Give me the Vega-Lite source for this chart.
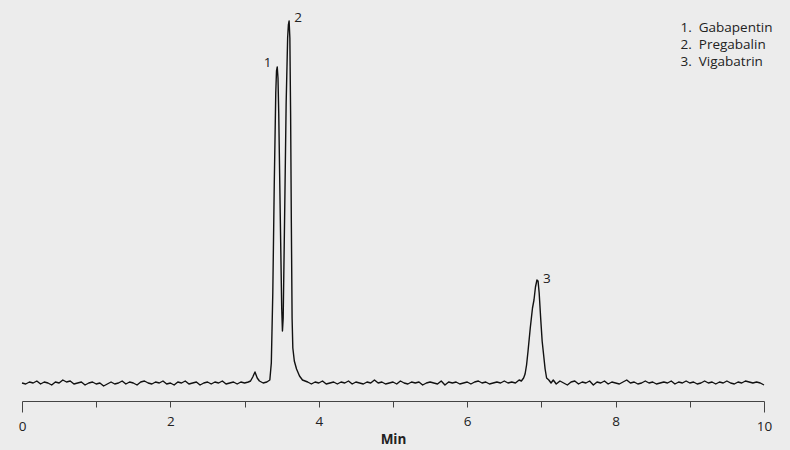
{
  "$schema": "https://vega.github.io/schema/vega-lite/v6.json",
  "autosize": "none",
  "width": 742,
  "height": 401,
  "padding": {"left": 22, "top": 0, "right": 26, "bottom": 49},
  "background": "#ececec",
  "config": {"view": {"stroke": null}, "font": "Open Sans"},
  "datasets": {
    "signal": [
      {"t":0.00,"s":0},{"t":0.05,"s":-1},{"t":0.10,"s":1},{"t":0.15,"s":0},{"t":0.20,"s":2},{"t":0.25,"s":-1},{"t":0.30,"s":1},{"t":0.35,"s":0},{"t":0.40,"s":-2},{"t":0.45,"s":1},
      {"t":0.50,"s":0},{"t":0.55,"s":3},{"t":0.60,"s":1},{"t":0.65,"s":2},{"t":0.70,"s":-1},{"t":0.75,"s":0},{"t":0.80,"s":1},{"t":0.85,"s":-2},{"t":0.90,"s":0},{"t":0.95,"s":1},
      {"t":1.00,"s":-1},{"t":1.05,"s":0},{"t":1.10,"s":-3},{"t":1.15,"s":-1},{"t":1.20,"s":1},{"t":1.25,"s":-1},{"t":1.30,"s":0},{"t":1.35,"s":2},{"t":1.40,"s":-1},{"t":1.45,"s":1},
      {"t":1.50,"s":0},{"t":1.55,"s":-2},{"t":1.60,"s":1},{"t":1.65,"s":2},{"t":1.70,"s":0},{"t":1.75,"s":-1},{"t":1.80,"s":1},{"t":1.85,"s":0},{"t":1.90,"s":2},{"t":1.95,"s":-1},
      {"t":2.00,"s":0},{"t":2.05,"s":-2},{"t":2.10,"s":1},{"t":2.15,"s":0},{"t":2.20,"s":2},{"t":2.25,"s":-1},{"t":2.30,"s":0},{"t":2.35,"s":1},{"t":2.40,"s":-2},{"t":2.45,"s":0},
      {"t":2.50,"s":1},{"t":2.55,"s":-1},{"t":2.60,"s":1},{"t":2.65,"s":0},{"t":2.70,"s":2},{"t":2.75,"s":-1},{"t":2.80,"s":0},{"t":2.85,"s":1},{"t":2.90,"s":-1},{"t":2.95,"s":1},
      {"t":3.00,"s":0},{"t":3.05,"s":1},{"t":3.08,"s":2},{"t":3.11,"s":6},{"t":3.14,"s":11},{"t":3.17,"s":5},{"t":3.20,"s":2},{"t":3.25,"s":0},{"t":3.30,"s":1},
      {"t":3.34,"s":3},{"t":3.36,"s":20},{"t":3.38,"s":90},{"t":3.40,"s":200},{"t":3.42,"s":290},{"t":3.43,"s":312},{"t":3.44,"s":316},{"t":3.45,"s":305},{"t":3.46,"s":270},{"t":3.48,"s":170},
      {"t":3.50,"s":75},{"t":3.51,"s":52},{"t":3.52,"s":65},{"t":3.54,"s":170},{"t":3.56,"s":280},{"t":3.58,"s":345},{"t":3.59,"s":358},{"t":3.60,"s":362},{"t":3.61,"s":345},{"t":3.62,"s":270},
      {"t":3.63,"s":160},{"t":3.64,"s":65},{"t":3.65,"s":35},{"t":3.67,"s":22},{"t":3.70,"s":14},{"t":3.74,"s":7},{"t":3.78,"s":3},
      {"t":3.85,"s":1},{"t":3.90,"s":-1},{"t":3.95,"s":1},{"t":4.00,"s":0},{"t":4.05,"s":2},{"t":4.10,"s":-1},{"t":4.15,"s":0},{"t":4.20,"s":1},{"t":4.25,"s":-1},{"t":4.30,"s":1},
      {"t":4.35,"s":0},{"t":4.40,"s":2},{"t":4.45,"s":-1},{"t":4.50,"s":1},{"t":4.55,"s":0},{"t":4.60,"s":-1},{"t":4.65,"s":1},{"t":4.70,"s":0},{"t":4.75,"s":3},{"t":4.80,"s":0},
      {"t":4.85,"s":1},{"t":4.90,"s":-1},{"t":4.95,"s":0},{"t":5.00,"s":1},{"t":5.05,"s":-1},{"t":5.10,"s":2},{"t":5.15,"s":0},{"t":5.20,"s":-1},{"t":5.25,"s":1},{"t":5.30,"s":0},
      {"t":5.35,"s":1},{"t":5.40,"s":-2},{"t":5.45,"s":0},{"t":5.50,"s":1},{"t":5.55,"s":0},{"t":5.60,"s":-1},{"t":5.65,"s":2},{"t":5.70,"s":-2},{"t":5.75,"s":1},{"t":5.80,"s":0},
      {"t":5.85,"s":1},{"t":5.90,"s":-1},{"t":5.95,"s":0},{"t":6.00,"s":1},{"t":6.05,"s":-1},{"t":6.10,"s":1},{"t":6.15,"s":2},{"t":6.20,"s":0},{"t":6.25,"s":1},{"t":6.30,"s":-1},
      {"t":6.35,"s":0},{"t":6.40,"s":1},{"t":6.45,"s":0},{"t":6.50,"s":2},{"t":6.55,"s":0},{"t":6.60,"s":1},{"t":6.65,"s":0},{"t":6.70,"s":3},{"t":6.73,"s":2},{"t":6.76,"s":5},
      {"t":6.78,"s":9},{"t":6.80,"s":18},{"t":6.82,"s":32},{"t":6.85,"s":55},{"t":6.88,"s":75},{"t":6.90,"s":83},{"t":6.92,"s":96},{"t":6.94,"s":103},{"t":6.955,"s":102},{"t":6.97,"s":90},
      {"t":6.99,"s":65},{"t":7.01,"s":42},{"t":7.03,"s":28},{"t":7.05,"s":14},{"t":7.07,"s":5},{"t":7.10,"s":3},{"t":7.13,"s":0},{"t":7.16,"s":3},{"t":7.20,"s":-1},{"t":7.25,"s":2},
      {"t":7.30,"s":0},{"t":7.35,"s":-2},{"t":7.40,"s":1},{"t":7.45,"s":2},{"t":7.50,"s":-1},{"t":7.55,"s":1},{"t":7.60,"s":0},{"t":7.65,"s":2},{"t":7.70,"s":-2},{"t":7.75,"s":1},
      {"t":7.80,"s":0},{"t":7.85,"s":2},{"t":7.90,"s":-1},{"t":7.95,"s":1},{"t":8.00,"s":0},{"t":8.05,"s":-1},{"t":8.10,"s":1},{"t":8.15,"s":3},{"t":8.20,"s":0},{"t":8.25,"s":1},
      {"t":8.30,"s":-1},{"t":8.35,"s":0},{"t":8.40,"s":2},{"t":8.45,"s":0},{"t":8.50,"s":1},{"t":8.55,"s":-1},{"t":8.60,"s":0},{"t":8.65,"s":1},{"t":8.70,"s":0},{"t":8.75,"s":2},
      {"t":8.80,"s":-1},{"t":8.85,"s":1},{"t":8.90,"s":0},{"t":8.95,"s":2},{"t":9.00,"s":0},{"t":9.05,"s":1},{"t":9.10,"s":-1},{"t":9.15,"s":0},{"t":9.20,"s":2},{"t":9.25,"s":0},
      {"t":9.30,"s":1},{"t":9.35,"s":-1},{"t":9.40,"s":1},{"t":9.45,"s":0},{"t":9.50,"s":2},{"t":9.55,"s":0},{"t":9.60,"s":-1},{"t":9.65,"s":1},{"t":9.70,"s":0},{"t":9.75,"s":2},
      {"t":9.80,"s":1},{"t":9.85,"s":0},{"t":9.90,"s":1},{"t":9.95,"s":0},{"t":10.00,"s":-2}
    ],
    "peaks": [
      {"peak":"1","compound":"1.\u00a0\u00a0Gabapentin","t":3.31,"s":320},
      {"peak":"2","compound":"2.\u00a0\u00a0Pregabalin","t":3.72,"s":365},
      {"peak":"3","compound":"3.\u00a0\u00a0Vigabatrin","t":7.075,"s":104}
    ]
  },
  "layer": [
    {
      "data": {"name": "signal"},
      "mark": {"type": "line", "color": "#111111", "strokeWidth": 1.4, "strokeJoin": "round"},
      "encoding": {
        "x": {
          "field": "t", "type": "quantitative",
          "scale": {"domain": [0, 10], "nice": false, "zero": false},
          "axis": {
            "values": [0,1,2,3,4,5,6,7,8,9,10],
            "format": "d",
            "labelExpr": "datum.value % 2 == 0 ? datum.label : ''",
            "tickSize": {"condition": {"test": "datum.value == 0 || datum.value == 10", "value": 11}, "value": 6},
            "grid": false,
            "labelFlush": false,
            "labelOverlap": false,
            "domainColor": "#444444",
            "tickColor": "#444444",
            "labelFont": "Open Sans",
            "labelFontSize": 13.5,
            "labelColor": "#222222",
            "labelPadding": 7,
            "title": "Min",
            "titleFont": "Open Sans",
            "titleFontWeight": "bold",
            "titleFontSize": 13.5,
            "titleColor": "#222222",
            "titlePadding": 0
          }
        },
        "y": {
          "field": "s", "type": "quantitative",
          "scale": {"domain": [-18, 383], "nice": false, "zero": false},
          "axis": null
        }
      }
    },
    {
      "data": {"name": "peaks"},
      "mark": {"type": "text", "font": "Open Sans", "fontSize": 13.5, "align": "center", "baseline": "middle", "color": "#222222"},
      "encoding": {
        "x": {"field": "t", "type": "quantitative"},
        "y": {"field": "s", "type": "quantitative"},
        "text": {"field": "peak"}
      }
    },
    {
      "data": {"name": "peaks"},
      "mark": {"type": "point", "opacity": 0},
      "encoding": {
        "x": {"field": "t", "type": "quantitative"},
        "y": {"field": "s", "type": "quantitative"},
        "color": {
          "field": "compound", "type": "nominal",
          "scale": {"range": ["#222222", "#222222", "#222222"]},
          "legend": {
            "title": null,
            "orient": "none",
            "legendX": 645,
            "legendY": 21,
            "padding": 0,
            "symbolSize": 0,
            "symbolStrokeWidth": 0,
            "symbolOpacity": 0,
            "labelOffset": 0,
            "labelFont": "Open Sans",
            "labelFontSize": 13.5,
            "labelColor": "#222222",
            "rowPadding": 2
          }
        }
      }
    }
  ]
}
